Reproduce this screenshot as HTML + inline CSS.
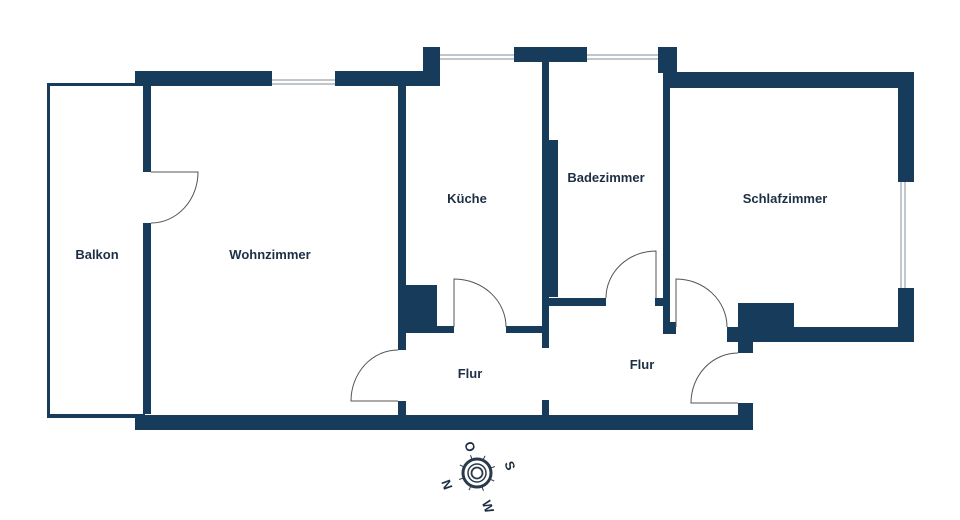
<!DOCTYPE html>
<html><head><meta charset="utf-8"><style>
html,body{margin:0;padding:0;background:#fff;}
svg{display:block;}
text{font-family:"Liberation Sans",sans-serif;font-weight:bold;font-size:13px;fill:#1d2f45;}
</style></head><body>
<svg width="960" height="520" viewBox="0 0 960 520" xmlns="http://www.w3.org/2000/svg">
<g fill="#173b5a">
<rect x="47" y="83" width="98" height="3"/>
<rect x="47" y="83" width="3" height="335"/>
<rect x="47" y="414" width="98" height="4"/>
<rect x="135" y="71" width="137" height="15"/>
<rect x="335" y="71" width="104" height="15"/>
<rect x="423" y="47" width="17" height="39"/>
<rect x="143" y="86" width="8" height="86"/>
<rect x="143" y="223" width="8" height="191"/>
<rect x="135" y="415" width="618" height="15"/>
<rect x="398" y="86" width="8" height="264"/>
<rect x="398" y="401" width="8" height="14"/>
<rect x="398" y="285" width="39" height="48"/>
<rect x="437" y="326" width="17" height="7"/>
<rect x="506" y="326" width="43" height="7"/>
<rect x="514" y="47" width="73" height="15"/>
<rect x="658" y="47" width="19" height="26"/>
<rect x="542" y="47" width="7" height="301"/>
<rect x="549" y="140" width="9" height="157"/>
<rect x="542" y="400" width="7" height="15"/>
<rect x="549" y="298" width="57" height="8"/>
<rect x="655" y="298" width="8" height="8"/>
<rect x="663" y="62" width="7" height="272"/>
<rect x="663" y="322" width="13" height="12"/>
<rect x="663" y="72" width="251" height="16"/>
<rect x="898" y="72" width="16" height="110"/>
<rect x="898" y="288" width="16" height="54"/>
<rect x="738" y="303" width="56" height="24"/>
<rect x="727" y="327" width="187" height="15"/>
<rect x="738" y="327" width="15" height="26"/>
<rect x="738" y="403" width="15" height="27"/>
</g>
<g stroke="#9aa4ad" stroke-width="1.2" fill="none">
<line x1="272" y1="80" x2="335" y2="80"/><line x1="272" y1="84" x2="335" y2="84"/>
<line x1="440" y1="55" x2="514" y2="55"/><line x1="440" y1="59" x2="514" y2="59"/>
<line x1="587" y1="55" x2="658" y2="55"/><line x1="587" y1="59" x2="658" y2="59"/>
<line x1="901" y1="182" x2="901" y2="288"/><line x1="905" y1="182" x2="905" y2="288"/>
</g>
<g stroke="#555" stroke-width="1" fill="none">
<path d="M151 172 L198 172 A47 51 0 0 1 151 223"/>
<path d="M398 350 A47 51 0 0 0 351 401 L398 401"/>
<path d="M454 327 L454 279 A52 48 0 0 1 506 327"/>
<path d="M656 298 L656 251 A50 47 0 0 0 606 298"/>
<path d="M676 327 L676 279 A51 48 0 0 1 727 327"/>
<path d="M738 353 A47 50 0 0 0 691 403 L738 403"/>
</g>
<text x="97" y="259" text-anchor="middle">Balkon</text>
<text x="270" y="259" text-anchor="middle">Wohnzimmer</text>
<text x="467" y="203" text-anchor="middle">Küche</text>
<text x="606" y="182" text-anchor="middle">Badezimmer</text>
<text x="785" y="203" text-anchor="middle">Schlafzimmer</text>
<text x="470" y="378" text-anchor="middle">Flur</text>
<text x="642" y="369" text-anchor="middle">Flur</text>
<g transform="translate(477,473)" stroke="#2a3a4c" fill="none">
<circle r="14" stroke-width="3"/>
<circle r="9" stroke-width="1.5"/>
<circle r="5.5" stroke-width="1.8"/>
<g stroke-width="1">
<line x1="0" y1="-14" x2="0" y2="-19" transform="rotate(25)"/>
<line x1="0" y1="-14" x2="0" y2="-19" transform="rotate(70)"/>
<line x1="0" y1="-14" x2="0" y2="-19" transform="rotate(115)"/>
<line x1="0" y1="-14" x2="0" y2="-19" transform="rotate(160)"/>
<line x1="0" y1="-14" x2="0" y2="-19" transform="rotate(205)"/>
<line x1="0" y1="-14" x2="0" y2="-19" transform="rotate(250)"/>
<line x1="0" y1="-14" x2="0" y2="-19" transform="rotate(295)"/>
<line x1="0" y1="-14" x2="0" y2="-19" transform="rotate(340)"/>
</g>
</g>
<g style="font-size:11px">
<text transform="translate(469,447) rotate(70)" text-anchor="middle" dominant-baseline="middle">O</text>
<text transform="translate(509,466) rotate(70)" text-anchor="middle" dominant-baseline="middle">S</text>
<text transform="translate(446,485) rotate(70)" text-anchor="middle" dominant-baseline="middle">N</text>
<text transform="translate(487,507) rotate(70)" text-anchor="middle" dominant-baseline="middle">W</text>
</g>
</svg>
</body></html>
